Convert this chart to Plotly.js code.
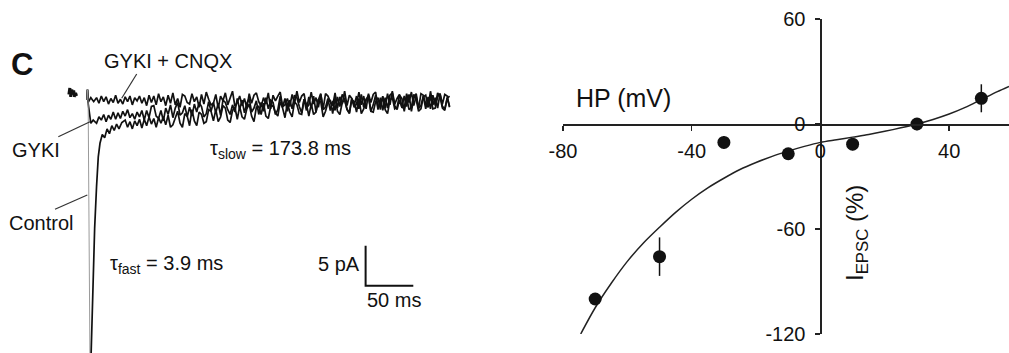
<!DOCTYPE html>
<html><head><meta charset="utf-8">
<script src="https://cdn.plot.ly/plotly-3.0.1.min.js"></script>
<style>html,body{margin:0;padding:0;background:#fff;}#chart{width:1009px;height:353px;}</style>
</head><body><div id="chart"></div>
<script>
// ---------- Left panel: EPSC traces (time in ms from stimulus, current in pA from baseline) ----------
const sweepTimeMs = [10,12.5,15,17.5,20,22.5,25,27.5,30,32.5,
  35,37.5,40,42.5,45,47.5,50,52.5,55,57.5,
  60,62.5,65,67.5,70,72.5,75,77.5,80,82.5,
  85,87.5,90,92.5,95,97.5,100,102.5,105,107.5,
  110,112.5,115,117.5,120,122.5,125,127.5,130,132.5,
  135,137.5,140,142.5,145,147.5,150,152.5,155,157.5,
  160,162.5,165,167.5,170,172.5,175,177.5,180,182.5,
  185,187.5,190,192.5,195,197.5,200,202.5,205,207.5,
  210,212.5,215,217.5,220,222.5,225,227.5,230,232.5,
  235,237.5,240,242.5,245,247.5,250,252.5,255,257.5,
  260,262.5,265,267.5,270,272.5,275,277.5,280,282.5,
  285,287.5,290,292.5,295,297.5,300,302.5,305,307.5,
  310,312.5,315,317.5,320,322.5,325,327.5,330,332.5,
  335,337.5,340,342.5,345,347.5,350,352.5,355,357.5,
  360,362.5,365,367.5,370,372.5,375,377.5,380];

const preStimTimeMs = [-19,-18,-17,-16,-15,-14,-13,-12,-11];
const preStimPA = [0.7,1.5,0.4,1.3,0.7,1.2,0.4,0.9,0.5];

// GYKI + CNQX sweep
const cnqxTimeMs = [0,0.5,1.2,4,7].concat(sweepTimeMs);
const cnqxPA = [0,1.3,-0.3,0.3,-0.2,
  0.3,-0.4,0.5,-0.2,0.4,-0.5,0.2,-0.3,0.6,-0.4,
  0.1,-0.5,0.4,-0.2,0.5,-0.6,0.3,-0.1,0.5,-0.4,
  0.3,-0.7,0.6,-0.3,0.5,-0.6,0.8,-0.2,0.4,-0.7,
  0.6,-0.4,0.9,-0.6,0.2,-0.9,0.7,0.5,-0.3,-0.5,
  0.8,-0.2,0.4,-0.9,0.7,-0.5,1.0,0.1,-0.6,-0.4,
  0.7,-1.0,0.5,-0.1,0.9,-0.6,0.3,1.1,-0.8,-0.3,
  0.5,-0.7,0.2,-1.0,0.8,-0.4,0.6,0.9,-0.2,-0.8,
  0.3,-0.5,0.9,-1.1,0.6,-0.1,0.5,1.0,-0.8,-0.6,
  0.2,-0.8,0.7,-0.4,1.1,-0.3,0.5,0.8,-1.0,-0.6,
  1.0,-0.5,0.3,-0.9,0.7,-1.1,0.8,0.5,-0.2,-0.7,
  0.9,-1.0,0.4,-0.5,1.1,-0.7,0.6,0.2,-0.9,-0.5,
  1.0,-0.6,0.5,-1.1,0.8,-0.3,0.7,1.0,-0.9,-0.5,
  0.4,-1.0,0.8,-0.6,1.1,-0.5,0.2,0.7,-0.9,-1.0,
  0.8,-0.3,1.0,-0.7,0.5,-1.1,0.8,0.6,-0.5,-0.9,
  1.1,-0.6,0.3,-1.0,0.8,-0.5,0.7,0.5,-0.9];

// GYKI sweep
const gykiTimeMs = [0,0.5,1.2,2.5,4,6.5].concat(sweepTimeMs);
const gykiPA = [0,1.3,-0.4,-2.0,-2.9,-2.5,
  -2.9,-2.1,-2.5,-1.8,-2.7,-1.9,-2.4,-1.5,-2.4,-1.6,
  -2.3,-1.4,-2.0,-1.2,-2.2,-1.7,-2.4,-1.5,-2.1,-1.3,
  -2.5,-1.3,-2.2,-0.8,-0.7,-2.0,-2.3,-1.3,-2.6,-1.0,
  -1.8,-0.6,-2.2,-1.0,-0.3,-1.9,-1.6,-0.7,-2.1,-0.9,
  -2.0,-0.5,-1.5,-0.3,-0.8,-2.1,-1.7,-0.2,-1.4,-0.3,
  -1.6,-0.4,-1.9,0.0,-0.3,-1.2,-1.8,-0.6,-1.5,0.2,
  -1.2,0.0,-1.6,-0.4,0.2,-1.5,-1.0,-0.1,-1.8,-0.3,
  -1.4,0.3,-1.1,0.0,-0.3,-1.8,-1.2,0.5,-0.9,0.2,
  -1.4,0.0,-1.1,0.6,0.3,-0.8,-1.6,0.1,-1.3,0.4,
  -1.0,0.5,-1.5,0.0,0.8,-1.2,-0.9,0.2,-1.3,-0.1,
  -1.3,0.4,-0.8,0.7,0.1,-1.1,-1.6,0.2,-0.7,0.5,
  -1.1,0.7,-0.9,0.1,0.4,-1.4,-0.6,0.6,-1.2,0.3,
  -1.3,0.3,-1.0,0.6,0.9,-0.7,-1.2,0.0,-0.9,0.5,
  -0.8,0.7,-1.4,0.2,0.8,-1.0,-0.7,0.5,-1.1,0.4,
  -1.1,0.6,-0.7,0.9,0.4,-1.0,-1.3,0.3,-0.8];

// Control sweep: fast onset (drawn faint), then decay
const controlRiseTimeMs = [0,0.5,1.2,3.3];
const controlRisePA = [0,1.3,-0.5,-36];
const controlTimeMs = [3.3,4.5,6.5,8,10,11.8,13.6,16,18.5,21,23.5,26,28.5,31,33.5,36.5].concat(sweepTimeMs.slice(12));
const controlPA = [-36,-31,-21,-16,-10.8,-7.1,-5.4,-4.3,-4.7,-3.6,-4.2,-3.2,-3.8,-3.0,-3.6,-2.8,
  -2.5,-3.4,-2.7,-3.6,-2.6,-3.2,-2.4,-3.5,
  -2.4,-3.2,-2.1,-3.0,-2.3,-3.4,-2.2,-2.9,-2.1,-3.1,
  -1.9,-3.4,-3.1,-2.2,-1.4,-2.9,-3.4,-1.7,-2.0,-3.2,
  -1.2,-2.6,-3.2,-1.5,-1.8,-2.9,-2.7,-1.2,-1.4,-2.6,
  -1.2,-2.7,-2.1,-0.7,-1.0,-2.5,-2.8,-1.3,-0.9,-2.4,
  -0.8,-2.1,-2.4,-1.1,-0.5,-2.0,-2.7,-0.9,-0.8,-1.8,
  -0.4,-2.0,-2.3,-0.8,-0.7,-1.6,-2.0,-0.2,-1.0,-2.2,
  -0.3,-1.5,-2.1,-0.2,-0.6,-1.7,-1.8,0.1,-0.5,-2.0,
  -0.5,-1.8,-1.5,0.1,-0.2,-2.1,-1.4,-0.3,0.0,-1.7,
  0.3,-1.4,-1.8,-0.3,0.0,-1.2,-1.7,0.1,-0.2,-1.5,
  0.2,-1.7,-1.1,0.0,0.6,-1.4,-1.5,-0.2,0.3,-1.2,
  0.5,-1.2,-1.7,0.0,0.3,-1.1,-0.9,0.6,0.2,-1.4,
  0.3,-1.2,-0.9,0.7,0.1,-1.4,-1.1,0.4,0.6,-0.8,
  0.5,-1.1,-1.0,0.4,0.8,-0.8,-1.1,0.2,0.5];

const scaleBarPA = 5;
const scaleBarMs = 50;

// ---------- Right panel: I-V relation ----------
const holdingMV = [-70,-50,-30,-10,10,30,50];
const epscPct = [-100,-75.8,-10.5,-17,-11.5,0,14.7];
const epscErr = [2,11,3.5,2,3.5,3.5,8];
const fitMV  = [-74.5,-70,-65,-60,-55,-50,-45,-40,-35,-30,-25,-20,-15,-10,-5,0,5,10,15,20,25,30,35,40,45,50,55,58.6];
const fitPct = [-120,-105,-91,-78.5,-68,-59,-50.5,-43,-36.5,-31,-26,-22,-18.5,-15.5,-12.8,-10.5,-9,-7.5,-6,-4.2,-2.2,0,2.6,5.7,9.5,14,18.5,21.5];
const xTickVals = [-80,-40,0,40];
const xTickText = ['-80','-40','0','40'];
const yTickVals = [60,0,-60,-120];
const yTickText = ['60','0','-60','-120'];

// ---------- layout helpers ----------
const W = 1009, H = 353;
const X = p => p / W;
const Y = p => 1 - p / H;
const FONT = 'Liberation Sans, Arial, Helvetica, sans-serif';
const INK = '#111111';

const leftXRange = [-91.2, 411.9];
const leftYRange = [-31.6, 12.5];
const rightXRange = [-80, 58.6];
const rightYRange = [-120, 60];
const rightXDomain = [X(563), 1];
const rightYDomain = [Y(334), Y(19)];
const xAxisPos = rightYDomain[0] + (0 - rightYRange[0]) / (rightYRange[1] - rightYRange[0]) * (rightYDomain[1] - rightYDomain[0]);
const yAxisPos = rightXDomain[0] + (0 - rightXRange[0]) / (rightXRange[1] - rightXRange[0]) * (rightXDomain[1] - rightXDomain[0]);

const scaleOrigin = {t: 292, pA: -23.2};

const traceLine = (x, y, color, width) => ({
  x, y, type: 'scatter', mode: 'lines', xaxis: 'x', yaxis: 'y',
  line: {color, width}, hoverinfo: 'skip'
});

const data = [
  traceLine(preStimTimeMs, preStimPA, INK, 3),
  traceLine(cnqxTimeMs, cnqxPA, INK, 1.7),
  traceLine(gykiTimeMs, gykiPA, INK, 1.7),
  traceLine(controlRiseTimeMs, controlRisePA, '#9a9a9a', 1),
  traceLine(controlTimeMs, controlPA, INK, 1.7),
  traceLine([scaleOrigin.t, scaleOrigin.t, scaleOrigin.t + scaleBarMs],
            [scaleOrigin.pA + scaleBarPA, scaleOrigin.pA, scaleOrigin.pA], INK, 2),
  {
    x: fitMV, y: fitPct, type: 'scatter', mode: 'lines', xaxis: 'x2', yaxis: 'y2',
    line: {color: '#222', width: 1.5, shape: 'spline', smoothing: 0.8}, hoverinfo: 'skip'
  },
  {
    x: holdingMV, y: epscPct, type: 'scatter', mode: 'markers', xaxis: 'x2', yaxis: 'y2',
    marker: {color: INK, size: 13},
    error_y: {type: 'data', array: epscErr, visible: true, color: INK, thickness: 1.5, width: 0}
  }
];

const ann = (text, x, y, size, opts = {}) => Object.assign({
  text, x: X(x), y: Y(y), xref: 'paper', yref: 'paper', showarrow: false,
  xanchor: 'center', yanchor: 'middle', font: {family: FONT, size, color: INK}
}, opts);

const layout = {
  width: W, height: H,
  margin: {l: 0, r: 0, t: 0, b: 0},
  paper_bgcolor: '#fff', plot_bgcolor: 'rgba(0,0,0,0)',
  showlegend: false,
  font: {family: FONT, color: INK},
  xaxis: {domain: [0, X(480)], range: leftXRange, visible: false, fixedrange: true},
  yaxis: {domain: [0, 1], range: leftYRange, visible: false, fixedrange: true},
  xaxis2: {
    domain: rightXDomain, range: rightXRange, anchor: 'free', position: xAxisPos,
    showline: true, linecolor: '#222', linewidth: 1.5, zeroline: false, showgrid: false,
    ticks: 'outside', ticklen: 5, tickwidth: 1.5, tickcolor: '#222',
    tickvals: xTickVals, ticktext: xTickText, ticklabelstandoff: 3,
    tickfont: {family: FONT, size: 20, color: INK}
  },
  yaxis2: {
    domain: rightYDomain, range: rightYRange, anchor: 'free', position: yAxisPos,
    showline: true, linecolor: '#222', linewidth: 1.5, zeroline: false, showgrid: false,
    ticks: 'outside', ticklen: 5, tickwidth: 1.5, tickcolor: '#222',
    tickvals: yTickVals, ticktext: yTickText, ticklabelstandoff: 6,
    tickfont: {family: FONT, size: 20, color: INK}
  },
  annotations: [
    ann('<b>C</b>', 21.5, 64.5, 31),
    ann('GYKI + CNQX', 167.5, 61, 20),
    ann('GYKI', 36, 150, 20),
    ann('Control', 41, 223, 20),
    ann('τ<sub>slow</sub> = 173.8 ms', 208, 149, 20, {xanchor: 'left'}),
    ann('τ<sub>fast</sub> = 3.9 ms', 108, 264, 20, {xanchor: 'left'}),
    ann('5 pA', 362, 264, 20, {xanchor: 'right'}),
    ann('50 ms', 394, 300, 20),
    ann('HP (mV)', 623, 98, 25),
    ann('I<sub>EPSC</sub> (%)', 856, 233, 24, {textangle: -90})
  ],
  shapes: [
    {type: 'line', xref: 'paper', yref: 'paper', x0: X(136.7), y0: Y(74), x1: X(121.7), y1: Y(98.3), line: {color: '#333', width: 1.2}},
    {type: 'line', xref: 'paper', yref: 'paper', x0: X(58.3), y0: Y(136.7), x1: X(90), y1: Y(121.7), line: {color: '#333', width: 1.2}},
    {type: 'line', xref: 'paper', yref: 'paper', x0: X(55), y0: Y(209.3), x1: X(87.3), y1: Y(195), line: {color: '#333', width: 1.2}}
  ]
};

Plotly.newPlot('chart', data, layout, {staticPlot: true, displayModeBar: false});
</script></body></html>
